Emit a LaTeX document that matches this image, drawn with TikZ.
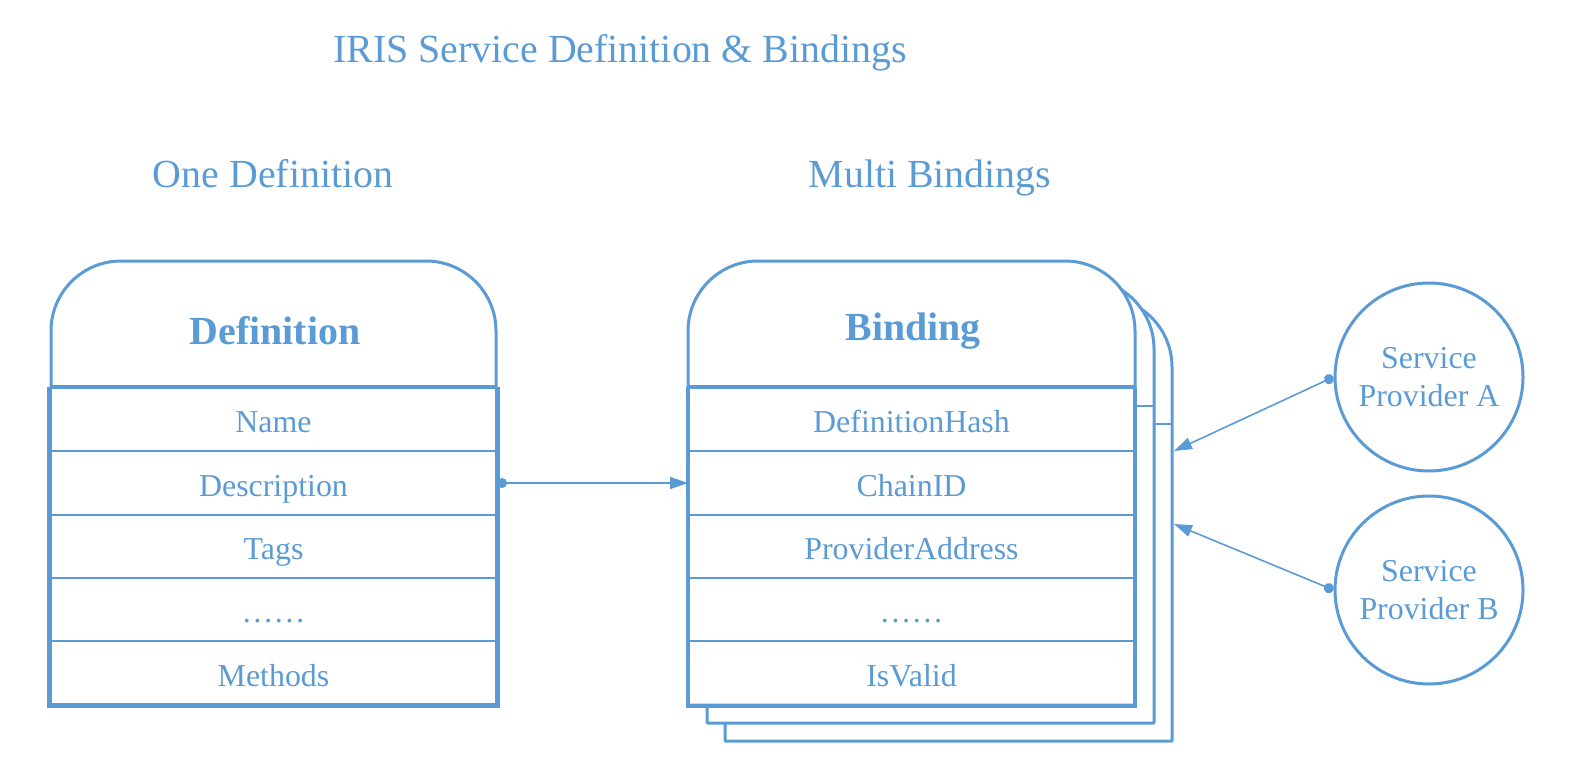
\documentclass[tikz,border=0pt]{standalone}
\usepackage{fontspec}
\setmainfont{Liberation Serif}
\usetikzlibrary{arrows.meta}
\definecolor{blu}{HTML}{5B9BD5}
\begin{document}
\begin{tikzpicture}[x=1bp,y=-1bp,
  every node/.style={text=blu},
  rowbox/.style={draw=blu, line width=2bp, minimum width=445bp, minimum height=63.5bp, inner sep=0pt,
     font=\fontsize{32}{37}\selectfont, text height=26bp, text depth=0pt},
  hdr/.style={font=\fontsize{40}{46}\selectfont\bfseries, anchor=base},
  big/.style={font=\fontsize{40}{46}\selectfont, anchor=base},
  prov/.style={circle, draw=blu, line width=3bp, minimum size=188bp, inner sep=0pt, align=center,
     font=\fontsize{32}{38}\selectfont},
  conn/.style={draw=blu, line width=1.6bp, {Circle[length=10bp]}-{Triangle[length=18bp,width=12bp]}},
  outline/.style={draw=blu, line width=3bp, line join=round}
]
\useasboundingbox (0,0) rectangle (1574,784);

% titles
\node[big] (title) at (620,63) {IRIS Service Definition \& Bindings};
\node[big] (onedef) at (273,187) {One Definition};
\node[big] (multib) at (930,187) {Multi Bindings};

% ---------- Definition ----------
\draw[outline, fill=white] (51,388) -- (51,331) arc[start angle=180, end angle=270, radius=70]
   -- (426,261) arc[start angle=270, end angle=360, radius=70] -- (496,388);
\node[hdr] (defh) at (275,344) {Definition};
\node[rowbox] (d1) at (273.5,419.5) {Name};
\node[rowbox] (d2) at (273.5,483) {Description};
\node[rowbox] (d3) at (273.5,546.5) {Tags};
\node[rowbox] (d4) at (273.5,609.5) {……};
\node[rowbox] (d5) at (273.5,673) {Methods};
\draw[draw=blu, line width=5bp] (d1.north west) -- (d5.south west) -- (d5.south east) -- (d1.north east);
\draw[draw=blu, line width=4bp] (d1.north west) -- (d1.north east);

% ---------- Bindings (stack) ----------
\foreach \dx/\dy in {37/36, 19/18}{
  \begin{scope}[shift={(\dx,\dy)}]
    \draw[outline, fill=white] (688,705) -- (688,331) arc[start angle=180, end angle=270, radius=70]
      -- (1065,261) arc[start angle=270, end angle=360, radius=70] -- (1135,705) -- cycle;
    \draw[draw=blu, line width=2bp] (688,388) -- (1135,388);
  \end{scope}
}
\draw[outline, fill=white] (688,705) -- (688,331) arc[start angle=180, end angle=270, radius=70]
   -- (1065,261) arc[start angle=270, end angle=360, radius=70] -- (1135,705) -- cycle;
\node[hdr] (bh) at (913,340) {Binding};
\node[rowbox] (b1) at (911.5,419.5) {DefinitionHash};
\node[rowbox] (b2) at (911.5,483) {ChainID};
\node[rowbox] (b3) at (911.5,546.5) {ProviderAddress};
\node[rowbox] (b4) at (911.5,609.5) {……};
\node[rowbox] (b5) at (911.5,673) {IsValid};
\draw[draw=blu, line width=3.5bp] (b1.north west) -- (b5.south west) -- (b5.south east) -- (b1.north east);
\draw[draw=blu, line width=4bp] (b1.north west) -- (b1.north east);

% ---------- Providers ----------
\node[prov] (pa) at (1429,377) {Service\\Provider A};
\node[prov] (pb) at (1429,590) {Service\\Provider B};
\coordinate (ea) at (1174,451);
\coordinate (eb) at (1174,524);

% ---------- connectors ----------
\draw[conn] (d2.east) -- (b2.west);
\draw[conn] (pa.west) -- (ea);
\draw[conn] (pb.west) -- (eb);
\end{tikzpicture}
\end{document}
